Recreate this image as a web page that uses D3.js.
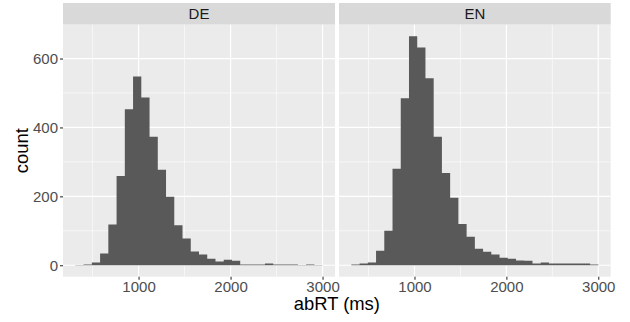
<!DOCTYPE html>
<html>
<head>
<meta charset="utf-8">
<script src="https://cdn.jsdelivr.net/npm/d3@7"></script>
<style>
  html, body { margin: 0; padding: 0; background: #ffffff; }
  svg { display: block; font-family: "Liberation Sans", Arial, Helvetica, sans-serif; }
</style>
</head>
<body>
<svg id="chart" width="630" height="322"></svg>
<script>
// ---- data ----
const panels = ["DE", "EN"];
const binEdges = [313, 402.6, 492.2, 581.8, 671.4, 761, 850.6, 940.2, 1029.8, 1119.4,
  1209, 1298.6, 1388.2, 1477.8, 1567.4, 1657, 1746.6, 1836.2, 1925.8, 2015.4,
  2105, 2194.6, 2284.2, 2373.8, 2463.4, 2553, 2642.6, 2732.2, 2821.8, 2911.4, 3001];
const countsDE = [1, 2, 8, 34, 118, 259, 453, 548, 487, 373,
  277, 199, 116, 78, 40, 31, 19, 11, 16, 13,
  2, 2, 2, 5, 2, 2, 2, 1, 2, 1];
const countsEN = [2, 5, 8, 42, 100, 280, 485, 665, 632, 543,
  373, 268, 196, 120, 83, 48, 39, 31, 22, 19,
  14, 13, 5, 8, 5, 5, 5, 5, 5, 2];
const xTicks = [1000, 2000, 3000];
const xMinor = [500, 1500, 2500];
const yTicks = [0, 200, 400, 600];
const yMinor = [100, 300, 500];
const xTitle = "abRT (ms)";
const yTitle = "count";

// ---- layout ----
const svg = d3.select("#chart");
const panelTop = 24.7, panelBottom = 276.7, stripTop = 3;
const panelX = [[63, 335], [339, 610.7]];
const seriesByPanel = { DE: countsDE, EN: countsEN };

const allCounts = countsDE.concat(countsEN);
const xLo = binEdges[0], xHi = binEdges[binEdges.length - 1];
const xPad = (xHi - xLo) * 0.05;
const yMax = d3.max(allCounts);
const yPad = yMax * 0.05;

const y = d3.scaleLinear().domain([-yPad, yMax + yPad]).range([panelBottom, panelTop]);

panels.forEach((p, i) => {
  const x = d3.scaleLinear().domain([xLo - xPad, xHi + xPad]).range(panelX[i]);
  const g = svg.append("g");
  const [x0, x1] = panelX[i];

  // strip
  g.append("rect").attr("x", x0).attr("y", stripTop).attr("width", x1 - x0)
    .attr("height", panelTop - stripTop).attr("fill", "#D9D9D9");
  g.append("text").attr("x", (x0 + x1) / 2).attr("y", (stripTop + panelTop) / 2)
    .attr("dy", "0.36em").attr("text-anchor", "middle")
    .attr("font-size", 15).attr("fill", "#1A1A1A").text(p);

  // panel background
  g.append("rect").attr("x", x0).attr("y", panelTop).attr("width", x1 - x0)
    .attr("height", panelBottom - panelTop).attr("fill", "#EBEBEB");

  // minor grid
  g.selectAll(".xminor").data(xMinor).enter().append("line")
    .attr("x1", d => x(d)).attr("x2", d => x(d)).attr("y1", panelTop).attr("y2", panelBottom)
    .attr("stroke", "#fff").attr("stroke-width", 0.6);
  g.selectAll(".yminor").data(yMinor).enter().append("line")
    .attr("x1", x0).attr("x2", x1).attr("y1", d => y(d)).attr("y2", d => y(d))
    .attr("stroke", "#fff").attr("stroke-width", 0.6);
  // major grid
  g.selectAll(".xmajor").data(xTicks).enter().append("line")
    .attr("x1", d => x(d)).attr("x2", d => x(d)).attr("y1", panelTop).attr("y2", panelBottom)
    .attr("stroke", "#fff").attr("stroke-width", 1.2);
  g.selectAll(".ymajor").data(yTicks).enter().append("line")
    .attr("x1", x0).attr("x2", x1).attr("y1", d => y(d)).attr("y2", d => y(d))
    .attr("stroke", "#fff").attr("stroke-width", 1.2);

  // histogram bars drawn as one stepped area (no seams between bins)
  const counts = seriesByPanel[p];
  const pts = [];
  counts.forEach((c, k) => {
    pts.push([binEdges[k], c]);
    pts.push([binEdges[k + 1], c]);
  });
  const area = d3.area()
    .x(d => x(d[0]))
    .y0(y(0))
    .y1(d => y(d[1]));
  g.append("path").datum(pts).attr("d", area).attr("fill", "#595959");

  // x axis
  const xa = g.append("g").attr("transform", `translate(0,${panelBottom})`)
    .call(d3.axisBottom(x).tickValues(xTicks).tickSize(3).tickPadding(2).tickFormat(d3.format("d")));
  xa.select(".domain").remove();
  xa.selectAll(".tick line").attr("stroke", "#333333").attr("stroke-width", 1.1);
  xa.selectAll(".tick text").attr("fill", "#4D4D4D").attr("font-size", 15)
    .attr("font-family", "Liberation Sans, Arial, sans-serif");

  if (i === 0) {
    const ya = g.append("g").attr("transform", `translate(${x0},0)`)
      .call(d3.axisLeft(y).tickValues(yTicks).tickSize(3).tickPadding(2).tickFormat(d3.format("d")));
    ya.select(".domain").remove();
    ya.selectAll(".tick line").attr("stroke", "#333333").attr("stroke-width", 1.1);
    ya.selectAll(".tick text").attr("fill", "#4D4D4D").attr("font-size", 15)
      .attr("font-family", "Liberation Sans, Arial, sans-serif");
  }
});

// axis titles
svg.append("text").attr("x", (panelX[0][0] + panelX[1][1]) / 2).attr("y", 310)
  .attr("text-anchor", "middle").attr("font-size", 18.4).attr("fill", "#000").text(xTitle);
svg.append("text")
  .attr("transform", `translate(28.3,${(panelTop + panelBottom) / 2}) rotate(-90)`)
  .attr("text-anchor", "middle").attr("font-size", 18.4).attr("fill", "#000").text(yTitle);
</script>
</body>
</html>
